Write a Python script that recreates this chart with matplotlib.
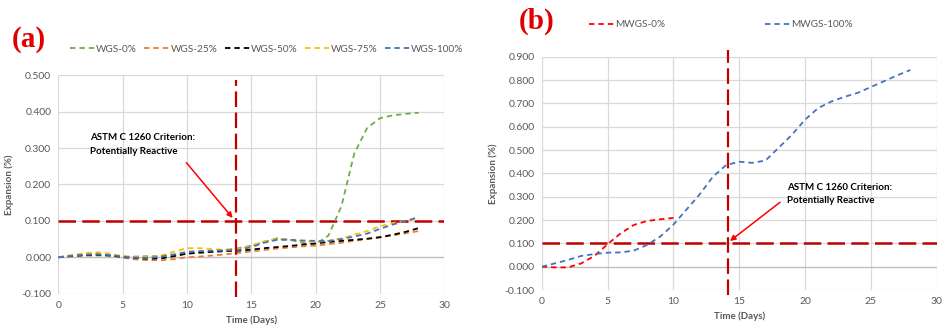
import matplotlib.pyplot as plt

plt.rcParams['font.family'] = ['Lato', 'DejaVu Sans']

# Panel (a) data
days_a = list(range(0, 29))
wgs_0 = [0, .002, .004, .005, .004, .002, .002, .003, .004, .006, .010, .012, .015, .020, .025,
         .032, .042, .052, .048, .040, .036, .060, .140, .285, .355, .382, .390, .394, .397]
wgs_25 = [0, .003, .007, .010, .005, -.001, -.006, -.008, -.008, -.005, 0, .002, .005, .008, .012,
          .016, .020, .024, .027, .030, .032, .036, .040, .045, .050, .055, .060, .066, .072]
wgs_50 = [0, .004, .006, .007, .005, .001, -.002, -.004, -.003, .003, .010, .013, .015, .017, .018,
          .021, .025, .028, .031, .035, .038, .042, .045, .048, .051, .055, .062, .070, .080]
wgs_75 = [0, .006, .011, .014, .010, .003, .000, .000, .005, .015, .025, .025, .022, .021, .022,
          .032, .044, .050, .048, .045, .043, .045, .052, .062, .072, .085, .094, .100, .106]
wgs_100 = [0, .004, .007, .008, .006, .002, -.001, -.002, .002, .008, .015, .017, .018, .019, .020,
           .028, .040, .048, .048, .046, .045, .045, .050, .057, .065, .078, .090, .100, .110]
series_a = [('WGS-0%', wgs_0, '#70AD47'), ('WGS-25%', wgs_25, '#ED7D31'),
            ('WGS-50%', wgs_50, '#000000'), ('WGS-75%', wgs_75, '#FFC000'),
            ('WGS-100%', wgs_100, '#4472C4')]

# Panel (b) data
days_b0 = list(range(0, 11))
mwgs_0 = [0, -.003, -.003, .014, .046, .096, .143, .179, .196, .203, .209]
days_b100 = list(range(0, 29))
mwgs_100 = [0, .014, .029, .046, .054, .060, .061, .069, .093, .129, .180, .245, .310, .385, .435,
            .450, .445, .455, .510, .565, .630, .680, .708, .728, .745, .770, .795, .820, .843]

criterion = 0.1
gray = '#595959'
dark_red = '#C00000'

fig = plt.figure(figsize=(9.45, 3.32), dpi=100)
ax_a = fig.add_axes([0.0617, 0.1154, 0.4085, 0.658])
ax_b = fig.add_axes([0.5732, 0.1265, 0.418, 0.7027])


def style_axes(ax, ymax, yticks):
    ax.set_xlim(0, 30)
    ax.set_ylim(-0.1, ymax)
    ax.set_xticks(range(0, 31, 5))
    ax.set_yticks(yticks)
    ax.set_yticklabels([f'{v:.3f}' for v in yticks])
    for s in ax.spines.values():
        s.set_visible(False)
    ax.grid(True, color='#D9D9D9', lw=0.9)
    ax.set_axisbelow(True)
    ax.axhline(0, color='#BFBFBF', lw=0.9, zorder=1)
    ax.tick_params(length=0, labelsize=7.5, labelcolor=gray, pad=5)
    ax.set_xlabel('Time (Days)', fontsize=7, fontweight='bold', color=gray, labelpad=4)
    ax.set_ylabel('Expansion (%)', fontsize=7, fontweight='bold', color=gray, labelpad=5)
    ax.axhline(criterion, color=dark_red, lw=1.8, dashes=(7, 2.5), zorder=3)


# (a)
yt_a = [-0.1, 0.0, 0.1, 0.2, 0.3, 0.4, 0.5]
style_axes(ax_a, 0.5, yt_a)
for name, vals, c in series_a:
    ax_a.plot(days_a, vals, color=c, lw=1.3, dashes=(3, 2.2), label=name, zorder=4)
ax_a.plot([13.8, 13.8], [-0.11, 0.487], color=dark_red, lw=1.6, dashes=(7, 2.5),
          clip_on=False, zorder=5)
ax_a.annotate('', xy=(13.55, 0.108), xytext=(9.95, 0.26),
              arrowprops=dict(arrowstyle='-|>', color='red', lw=1.1, mutation_scale=8,
                              shrinkA=0, shrinkB=0))
ax_a.text(2.5, 0.31, 'ASTM C 1260 Criterion:\nPotentially Reactive', fontsize=7,
          fontweight='bold', color='black', va='center', linespacing=1.6)
ax_a.legend(loc='lower left', bbox_to_anchor=(0.02, 1.08), ncol=5, frameon=False,
            fontsize=7.2, labelcolor=gray, handlelength=2.5, handletextpad=0.1,
            columnspacing=0.75, borderaxespad=0)

# (b)
yt_b = [round(-0.1 + 0.1 * i, 1) for i in range(11)]
style_axes(ax_b, 0.9, yt_b)
ax_b.plot(days_b0, mwgs_0, color='#FF0000', lw=1.3, dashes=(3, 2.2), label='MWGS-0%', zorder=4)
ax_b.plot(days_b100, mwgs_100, color='#4472C4', lw=1.3, dashes=(3, 2.2), label='MWGS-100%',
          zorder=4)
ax_b.plot([14.17, 14.17], [-0.12, 0.93], color=dark_red, lw=1.6, dashes=(7, 2.5),
          clip_on=False, zorder=5)
ax_b.annotate('', xy=(14.3, 0.11), xytext=(18.1, 0.276),
              arrowprops=dict(arrowstyle='-|>', color='red', lw=1.1, mutation_scale=8,
                              shrinkA=0, shrinkB=0))
ax_b.text(18.6, 0.312, 'ASTM C 1260 Criterion:\nPotentially Reactive', fontsize=7,
          fontweight='bold', color='black', va='center', linespacing=1.6)
ax_b.legend(loc='lower left', bbox_to_anchor=(0.11, 1.1), ncol=2, frameon=False,
            fontsize=7.2, labelcolor=gray, handlelength=2.5, handletextpad=0.1,
            columnspacing=10, borderaxespad=0)

fig.text(0.012, 0.86, '(a)', color='#E00000', fontsize=21, fontweight='bold',
         family=['Liberation Serif', 'DejaVu Serif'])
fig.text(0.549, 0.915, '(b)', color='#E00000', fontsize=21, fontweight='bold',
         family=['Liberation Serif', 'DejaVu Serif'])

fig.savefig('out.png', dpi=100)
